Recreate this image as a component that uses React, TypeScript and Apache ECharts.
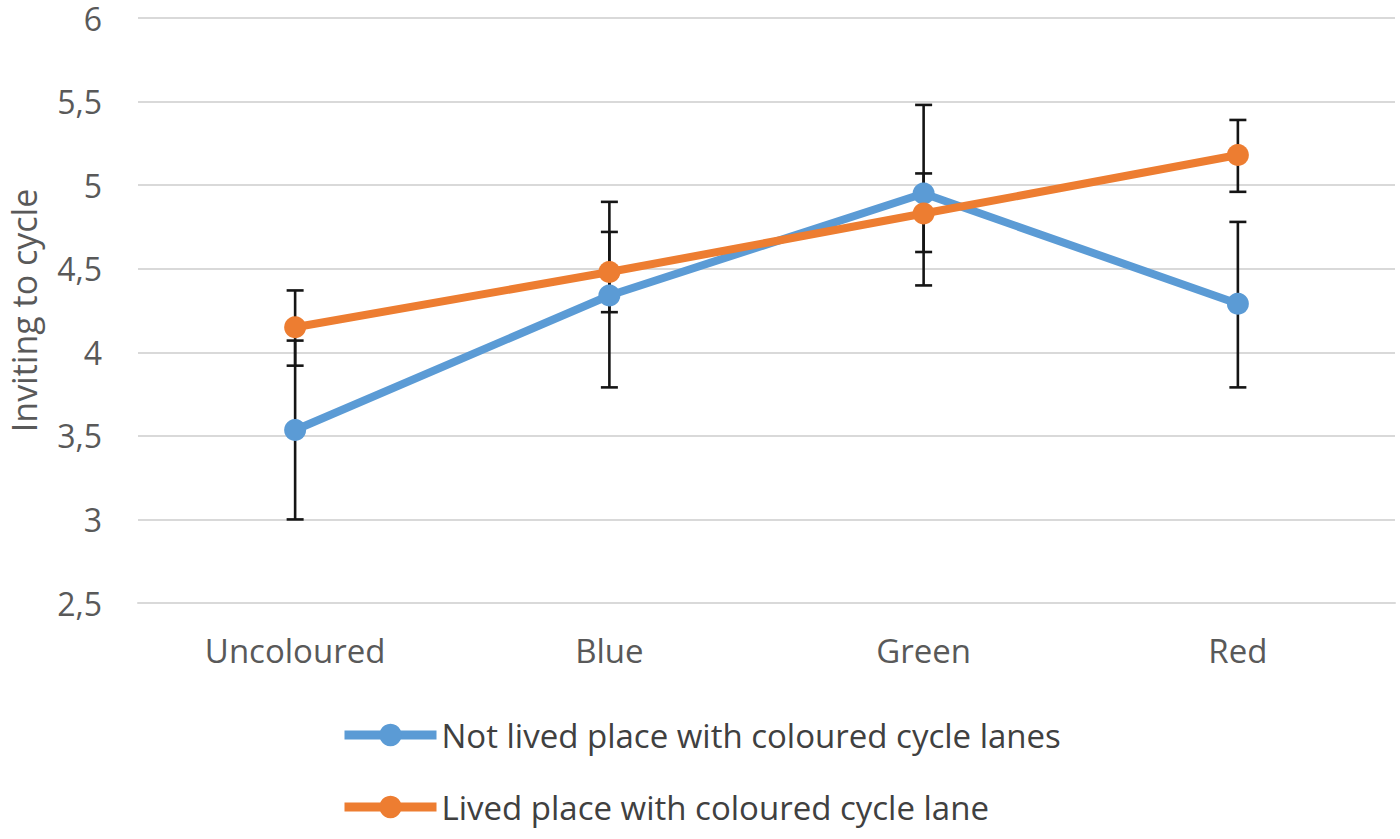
import React, { useEffect, useRef } from "react";
import * as echarts from "echarts";

const categories = ["Uncoloured", "Blue", "Green", "Red"];
const yTicks = [2.5, 3, 3.5, 4, 4.5, 5, 5.5, 6];

const notLivedName = "Not lived place with coloured cycle lanes";
const notLivedMean = [3.535, 4.34, 4.95, 4.29];
const notLivedLow = [3.0, 3.79, 4.4, 3.79];
const notLivedHigh = [4.07, 4.9, 5.48, 4.78];

const livedName = "Lived place with coloured cycle lane";
const livedMean = [4.15, 4.48, 4.83, 5.18];
const livedLow = [3.92, 4.24, 4.6, 4.96];
const livedHigh = [4.37, 4.72, 5.07, 5.39];

const FONT = "Open Sans";

function errorSeries(low: number[], high: number[], name: string) {
  return {
    type: "custom",
    name: name + " error",
    z: 1,
    silent: true,
    data: low.map((l, i) => [i, l, high[i]]),
    encode: { x: 0, y: [1, 2] },
    renderItem: (params: any, api: any) => {
      const x = api.value(0);
      const lo = api.coord([x, api.value(1)]);
      const hi = api.coord([x, api.value(2)]);
      const half = 8.5;
      const style = { stroke: "#151515", lineWidth: 2.6 };
      return {
        type: "group",
        children: [
          { type: "line", shape: { x1: lo[0], y1: lo[1], x2: hi[0], y2: hi[1] }, style },
          { type: "line", shape: { x1: lo[0] - half, y1: lo[1], x2: lo[0] + half, y2: lo[1] }, style },
          { type: "line", shape: { x1: hi[0] - half, y1: hi[1], x2: hi[0] + half, y2: hi[1] }, style },
        ],
      };
    },
  };
}

export default function App() {
  const ref = useRef<HTMLDivElement>(null);
  useEffect(() => {
    if (!ref.current) return;
    const chart = echarts.init(ref.current, undefined, { renderer: "svg" });
    chart.setOption({
      animation: false,
      backgroundColor: "#ffffff",
      grid: { left: 138, right: 5, top: 18, bottom: 236, containLabel: false, outerBoundsMode: "none" },
      legend: {
        orient: "vertical",
        left: 340,
        top: 717,
        padding: 0,
        itemWidth: 92,
        itemHeight: 28,
        itemGap: 36,
        data: [notLivedName, livedName],
        lineStyle: { width: 9 },
        textStyle: { fontFamily: FONT, fontSize: 33, color: "#404040", lineHeight: 36 },
      },
      xAxis: {
        type: "category",
        data: categories,
        boundaryGap: true,
        axisLine: { show: true, lineStyle: { color: "#d9d9d9", width: 2 } },
        axisTick: { show: false },
        axisLabel: { fontFamily: FONT, fontSize: 33, color: "#595959", margin: 31 },
      },
      yAxis: {
        type: "value",
        min: yTicks[0],
        max: yTicks[yTicks.length - 1],
        interval: 0.5,
        name: "Inviting to cycle",
        nameLocation: "middle",
        nameRotate: 90,
        nameGap: 97,
        nameTextStyle: { fontFamily: FONT, fontSize: 34, lineHeight: 34, color: "#595959" },
        axisLine: { show: false },
        axisTick: { show: false },
        splitLine: { lineStyle: { color: "#d9d9d9", width: 2 } },
        axisLabel: {
          fontFamily: FONT,
          fontSize: 32,
          lineHeight: 30,
          color: "#595959",
          margin: 36,
          formatter: (v: number) => String(v).replace(".", ","),
        },
      },
      series: [
        errorSeries(notLivedLow, notLivedHigh, notLivedName),
        errorSeries(livedLow, livedHigh, livedName),
        {
          type: "line",
          name: notLivedName,
          data: notLivedMean,
          z: 3,
          symbol: "circle",
          symbolSize: 22,
          itemStyle: { color: "#5b9bd5" },
          lineStyle: { color: "#5b9bd5", width: 8 },
        },
        {
          type: "line",
          name: livedName,
          data: livedMean,
          z: 4,
          symbol: "circle",
          symbolSize: 22,
          itemStyle: { color: "#ed7d31" },
          lineStyle: { color: "#ed7d31", width: 8 },
        },
      ],
    });
    return () => chart.dispose();
  }, []);
  return (
    <div
      ref={ref}
      style={{ position: "absolute", left: 0, top: 0, width: 1400, height: 839, background: "#fff" }}
    />
  );
}
